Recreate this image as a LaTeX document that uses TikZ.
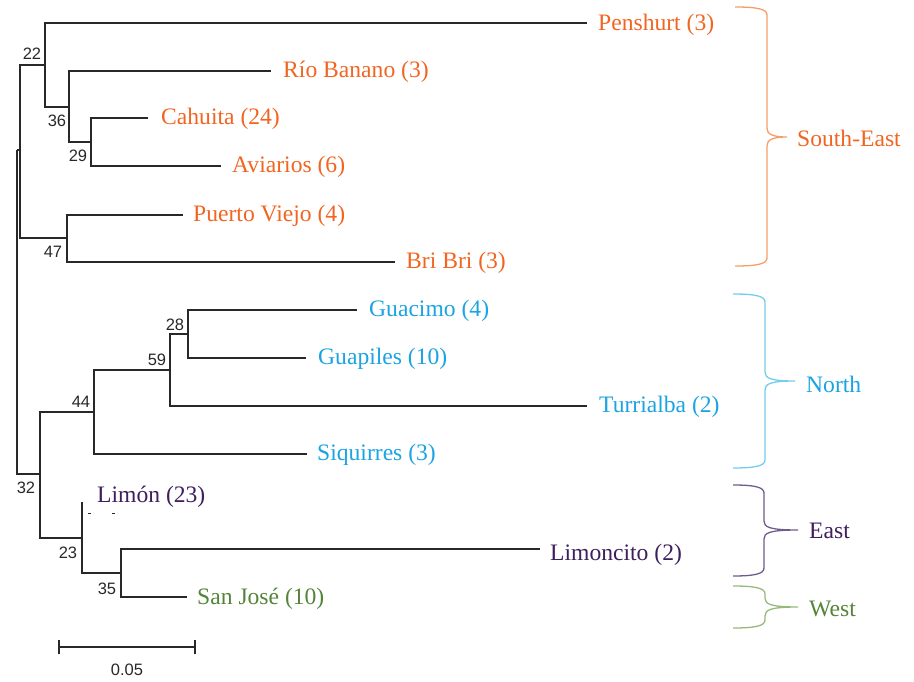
\documentclass[tikz,border=0pt]{standalone}
\usepackage{fontspec}
\setmainfont{Liberation Serif}
\newfontfamily\numfont{Liberation Sans}
\definecolor{treegray}{RGB}{40,40,40}
\definecolor{seor}{RGB}{241,101,33}
\definecolor{seorb}{RGB}{244,158,105}
\definecolor{nocy}{RGB}{27,163,226}
\definecolor{nocyb}{RGB}{115,205,236}
\definecolor{eapu}{RGB}{62,30,92}
\definecolor{eapub}{RGB}{112,92,140}
\definecolor{wegr}{RGB}{84,132,56}
\definecolor{wegrb}{RGB}{150,186,122}
\newcommand\grpbrace[7]{%
 \draw[brc,#1] (#2,#5) .. controls (#3-10,#5) and (#3,#5+2) .. (#3,#5+8) -- (#3,#6-9)
   .. controls (#3,#6-3) and (#3+5,#6) .. (#4,#6)
   .. controls (#3+5,#6) and (#3,#6+3) .. (#3,#6+9) -- (#3,#7-8)
   .. controls (#3,#7-2) and (#3-10,#7) .. (#2,#7);}
\begin{document}
\begin{tikzpicture}[x=1pt,y=-1pt,
  br/.style={line width=1.4pt, draw=treegray},
  leaf/.style={anchor=west, inner sep=0pt, font=\fontsize{23.6}{23.6}\selectfont},
  bs/.style={inner sep=0pt, text=treegray, font=\numfont\fontsize{16.5}{16.5}\selectfont},
  grp/.style={anchor=west, inner sep=0pt, font=\fontsize{23.6}{23.6}\selectfont},
  brc/.style={line width=1.3pt}]
\useasboundingbox (0,0) rectangle (914,682);
% internal nodes
\coordinate (root) at (17,150);
\coordinate (se) at (20,150);
\coordinate (n22) at (45,65);
\coordinate (n36) at (69,107);
\coordinate (n29) at (91,142);
\coordinate (n47) at (67,238);
\coordinate (n32) at (40,474);
\coordinate (n44) at (94,412);
\coordinate (n59) at (170,370);
\coordinate (n28) at (188,334);
\coordinate (n23) at (82,538);
\coordinate (n35) at (121,573);
% leaf ends
\coordinate (pen) at (587,23);
\coordinate (rio) at (271,71);
\coordinate (cah) at (148,118);
\coordinate (avi) at (221,166);
\coordinate (pue) at (183,215);
\coordinate (bri) at (395,262);
\coordinate (gua) at (357,310);
\coordinate (gup) at (306,358);
\coordinate (tur) at (587,406);
\coordinate (siq) at (307,454);
\coordinate (lim) at (82,502);
\coordinate (lco) at (540,549);
\coordinate (sjo) at (187,597);
% branches
\draw[br] (root) |- (se);
\draw[br] (root) |- (n32);
\draw[br] (se) |- (n22);
\draw[br] (se) |- (n47);
\draw[br] (n22) |- (pen);
\draw[br] (n22) |- (n36);
\draw[br] (n36) |- (rio);
\draw[br] (n36) |- (n29);
\draw[br] (n29) |- (cah);
\draw[br] (n29) |- (avi);
\draw[br] (n47) |- (pue);
\draw[br] (n47) |- (bri);
\draw[br] (n32) |- (n44);
\draw[br] (n32) |- (n23);
\draw[br] (n44) |- (n59);
\draw[br] (n44) |- (siq);
\draw[br] (n59) |- (n28);
\draw[br] (n59) |- (tur);
\draw[br] (n28) |- (gua);
\draw[br] (n28) |- (gup);
\draw[br] (n23) |- (lim);
\draw[br] (n23) |- (n35);
\draw[br] (n35) |- (lco);
\draw[br] (n35) |- (sjo);
% small marks under Limón
\coordinate (m1a) at (88,513); \coordinate (m1b) at (91,513);
\coordinate (m2a) at (112,513); \coordinate (m2b) at (115,513);
\draw[line width=0.9pt, treegray] (m1a) -- (m1b);
\draw[line width=0.9pt, treegray] (m2a) -- (m2b);
% bootstrap values
\node[bs] (b22) at (32,54) {22};
\node[bs] (b36) at (57,121) {36};
\node[bs] (b29) at (78,156) {29};
\node[bs] (b47) at (53,252) {47};
\node[bs] (b28) at (175,325) {28};
\node[bs] (b59) at (157,360) {59};
\node[bs] (b44) at (81,402) {44};
\node[bs] (b32) at (26,488) {32};
\node[bs] (b23) at (68,553) {23};
\node[bs] (b35) at (107,589) {35};
% leaf labels
\node[leaf, text=seor] (lpen) at (598,25) {Penshurt (3)};
\node[leaf, text=seor] (lrio) at (283,72) {Río Banano (3)};
\node[leaf, text=seor] (lcah) at (161,119) {Cahuita (24)};
\node[leaf, text=seor] (lavi) at (232,167) {Aviarios (6)};
\node[leaf, text=seor] (lpue) at (193,216) {Puerto Viejo (4)};
\node[leaf, text=seor] (lbri) at (406,263) {Bri Bri (3)};
\node[leaf, text=nocy] (lgua) at (369,311) {Guacimo (4)};
\node[leaf, text=nocy] (lgup) at (318,359) {Guapiles (10)};
\node[leaf, text=nocy] (ltur) at (599,407) {Turrialba (2)};
\node[leaf, text=nocy] (lsiq) at (317,455) {Siquirres (3)};
\node[leaf, text=eapu] (llim) at (97,497) {Limón (23)};
\node[leaf, text=eapu] (llco) at (550,555) {Limoncito (2)};
\node[leaf, text=wegr] (lsjo) at (197,599) {San José (10)};
% braces
\grpbrace{seorb}{735}{767}{787}{7}{137}{266}
\grpbrace{nocyb}{733}{765}{795}{294}{381}{468}
\grpbrace{eapub}{733}{764}{798}{485}{530}{576}
\grpbrace{wegrb}{733}{765}{798}{586}{607}{628}
\node[grp, text=seor] (gse) at (797,138) {South-East};
\node[grp, text=nocy] (gno) at (806,384) {North};
\node[grp, text=eapu] (gea) at (809,531) {East};
\node[grp, text=wegr] (gwe) at (809,609) {West};
% scale bar
\coordinate (sb1) at (59,647);
\coordinate (sb2) at (195,647);
\draw[br] (sb1) -- (sb2);
\draw[br] ([yshift=-7pt]sb1) -- ([yshift=7pt]sb1);
\draw[br] ([yshift=-7pt]sb2) -- ([yshift=7pt]sb2);
\node[bs] (sbl) at (127,670) {0.05};
\end{tikzpicture}
\end{document}
